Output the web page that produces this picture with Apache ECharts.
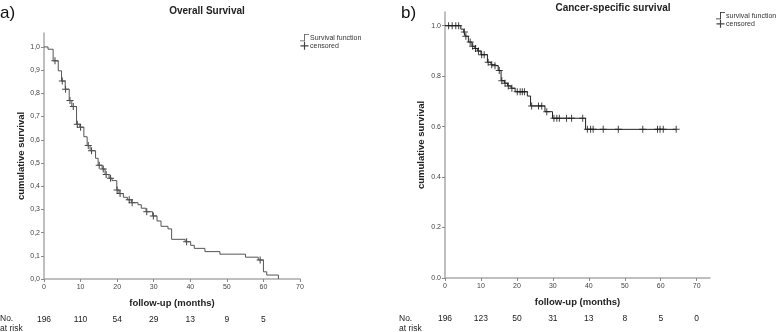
<!DOCTYPE html>
<html>
<head>
<meta charset="utf-8">
<script src="https://cdn.jsdelivr.net/npm/echarts@6/dist/echarts.min.js"></script>
<style>
  html, body { margin: 0; padding: 0; background: #fff; }
  #chart { width: 778px; height: 332px; }
</style>
</head>
<body>
<div id="chart"></div>
<script>
// a) overall survival: step points [months, survival]
let osCurve = [
  [0, 1.0], [1.1, 0.99], [2.5, 0.94], [3.9, 0.897], [4.8, 0.853], [5.8, 0.818],
  [6.9, 0.769], [7.6, 0.743], [8.9, 0.667], [9.8, 0.654], [10.9, 0.613], [11.8, 0.575],
  [12.6, 0.553], [14.1, 0.52], [14.8, 0.49], [15.9, 0.474], [16.7, 0.45], [17.8, 0.434],
  [18.6, 0.424], [19.9, 0.384], [20.5, 0.368], [21.7, 0.352], [22.8, 0.341], [23.9, 0.329],
  [25.7, 0.32], [26.6, 0.305], [27.9, 0.29], [29.7, 0.272], [30.9, 0.25], [32.0, 0.227],
  [33.9, 0.216], [34.9, 0.171], [38.6, 0.161], [40.1, 0.145], [41.1, 0.132], [44.0, 0.118],
  [48.1, 0.107], [55.1, 0.094], [58.6, 0.082], [60.0, 0.031], [60.9, 0.017], [64.1, 0]
]
let osCensored = [
  [3.0, 0.94], [5.0, 0.853], [5.9, 0.818], [7.1, 0.769], [8.0, 0.743], [9.1, 0.667],
  [10.0, 0.654], [12.1, 0.575], [13.0, 0.553], [15.1, 0.49], [16.2, 0.474], [17.0, 0.45],
  [18.2, 0.434], [20.0, 0.384], [20.8, 0.368], [23.3, 0.341], [24.1, 0.329], [28.1, 0.29],
  [29.9, 0.272], [39.0, 0.161], [59.1, 0.082]
]
let osRisk = ['196', '110', '54', '29', '13', '9', '5']

// b) cancer-specific survival
let cssCurve = [
  [0, 1.0], [4.4, 0.986], [5.2, 0.975], [5.7, 0.958], [6.5, 0.935], [7.5, 0.918],
  [8.3, 0.909], [9.1, 0.899], [10.0, 0.885], [11.8, 0.855], [12.8, 0.845], [13.6, 0.841],
  [14.8, 0.822], [15.6, 0.782], [16.5, 0.772], [17.4, 0.761], [18.4, 0.752], [19.5, 0.738],
  [22.9, 0.721], [23.8, 0.682], [27.8, 0.659], [29.9, 0.633], [39.1, 0.589], [64.3, 0.589]
]
let cssCensored = [
  [1.0, 1.0], [2.0, 1.0], [3.0, 1.0], [3.8, 1.0], [5.4, 0.975], [5.8, 0.958], [7.0, 0.935],
  [7.7, 0.918], [8.5, 0.909], [9.3, 0.899], [10.2, 0.885], [10.9, 0.885], [12.0, 0.855],
  [13.0, 0.845], [13.9, 0.841], [15.1, 0.822], [15.8, 0.782], [16.7, 0.772], [17.6, 0.761],
  [18.6, 0.752], [20.1, 0.738], [20.9, 0.738], [21.5, 0.738], [22.1, 0.738], [24.1, 0.682],
  [26.0, 0.682], [26.9, 0.682], [28.3, 0.659], [30.3, 0.633], [31.1, 0.633], [31.8, 0.633],
  [33.8, 0.633], [35.2, 0.633], [38.3, 0.633], [39.6, 0.589], [40.5, 0.589], [41.2, 0.589],
  [44.0, 0.589], [48.2, 0.589], [55.0, 0.589], [59.1, 0.589], [59.8, 0.589], [60.7, 0.589],
  [64.3, 0.589]
]
let cssRisk = ['196', '123', '50', '31', '13', '8', '5', '0']

let monthTicks = [0, 10, 20, 30, 40, 50, 60, 70]
let osYTicks = [0, 0.1, 0.2, 0.3, 0.4, 0.5, 0.6, 0.7, 0.8, 0.9, 1.0]
let cssYTicks = [0, 0.2, 0.4, 0.6, 0.8, 1.0]

let font = 'Liberation Sans, Arial, sans-serif'
let plusIcon = 'path://M0,3H7V4H0ZM3,0H4V7H3Z'
let stepIcon = 'path://M0,8H5V0H11V1H6V9H0Z'

let axisLine = { lineStyle: { color: '#aaa', width: 1.5 } }
let axisTick = { length: 3, lineStyle: { color: '#888' } }
let tickLabel = { fontSize: 7, color: '#444', fontFamily: font }
let nameStyle = { fontSize: 9.5, fontWeight: 'bold', color: '#222', fontFamily: font }

function xAxes(grid, max) {
  return [
    {
      type: 'value', gridIndex: grid, min: 0, max: max,
      name: 'follow-up (months)', nameLocation: 'middle', nameGap: 19, nameTextStyle: nameStyle,
      axisLine: axisLine, splitLine: { show: false },
      axisTick: Object.assign({ customValues: monthTicks }, axisTick),
      axisLabel: Object.assign({ customValues: monthTicks, margin: 5 }, tickLabel),
    },
    {
      // number at risk row
      type: 'value', gridIndex: grid, min: 0, max: max, position: 'bottom', offset: 36,
      axisLine: { show: false }, axisTick: { show: false }, splitLine: { show: false },
      axisLabel: {
        customValues: monthTicks.slice(0, grid == 0 ? osRisk.length : cssRisk.length),
        margin: 0, fontSize: 8.5, color: '#222', fontFamily: font,
        formatter: function (v) {
          let arr = grid == 0 ? osRisk : cssRisk
          return arr[Math.round(v / 10)]
        },
      },
    },
  ]
}

function yAxis(grid, max, ticks, comma, gap) {
  return {
    type: 'value', gridIndex: grid, min: 0, max: max,
    name: 'cumulative survival', nameLocation: 'middle', nameGap: gap, nameTextStyle: nameStyle,
    axisLine: axisLine, splitLine: { show: false },
    axisTick: Object.assign({ customValues: ticks }, axisTick),
    axisLabel: Object.assign({
      customValues: ticks, margin: 4,
      formatter: function (v) {
        let s = v.toFixed(1)
        return comma ? s.replace('.', ',') : s
      },
    }, tickLabel),
  }
}

let mychart = echarts.init(document.getElementById('chart'))
let option = {
  animation: false,
  textStyle: { fontFamily: font },
  title: [
    { text: 'Overall Survival', left: 202, top: 1, textAlign: 'center',
      textStyle: { fontSize: 10, fontWeight: 'bold', color: '#222' } },
    { text: 'Cancer-specific survival', left: 608, top: -2, textAlign: 'center',
      textStyle: { fontSize: 10, fontWeight: 'bold', color: '#222' } },
  ],
  legend: [
    {
      orient: 'vertical', left: 300, top: 34, padding: 0, itemWidth: 9, itemHeight: 8, itemGap: 0.5,
      textStyle: { fontSize: 7, color: '#333', padding: [0, 0, 0, -4] },
      data: [{ name: 'Survival function', icon: stepIcon }, { name: 'censored', icon: plusIcon }],
    },
    {
      orient: 'vertical', left: 716, top: 12, padding: 0, itemWidth: 9, itemHeight: 8, itemGap: 0.5,
      textStyle: { fontSize: 7, color: '#333', padding: [0, 0, 0, -4] },
      data: [{ name: 'survival function', icon: stepIcon }, { name: 'censored', icon: plusIcon }],
    },
  ],
  graphic: [
    { type: 'text', left: 0, top: 5, style: { text: 'a)', fontSize: 17, fill: '#111', fontFamily: font } },
    { type: 'text', left: 401, top: 5, style: { text: 'b)', fontSize: 17, fill: '#111', fontFamily: font } },
    { type: 'text', left: 0, top: 314, style: { text: 'No.\nat risk', fontSize: 8.5, lineHeight: 10, fill: '#222', fontFamily: font } },
    { type: 'text', left: 399, top: 314, style: { text: 'No.\nat risk', fontSize: 8.5, lineHeight: 10, fill: '#222', fontFamily: font } },
  ],
  grid: [
    { left: 44, top: 33, width: 256, height: 246 },
    { left: 445, top: 12, width: 265, height: 266 },
  ],
  xAxis: xAxes(0, 70).concat(xAxes(1, 73.7)),
  yAxis: [yAxis(0, 1.06, osYTicks, true, 18), yAxis(1, 1.054, cssYTicks, false, 19)],
  series: [
    {
      name: 'Survival function', type: 'line', step: 'end', xAxisIndex: 0, yAxisIndex: 0,
      showSymbol: false, color: '#555', lineStyle: { width: 1, color: '#555' }, data: osCurve,
    },
    {
      name: 'censored', type: 'scatter', xAxisIndex: 0, yAxisIndex: 0,
      symbol: plusIcon, symbolSize: 7, color: '#111', data: osCensored,
    },
    {
      name: 'survival function', type: 'line', step: 'end', xAxisIndex: 2, yAxisIndex: 1,
      showSymbol: false, color: '#222', lineStyle: { width: 1, color: '#222' }, data: cssCurve,
    },
    {
      name: 'censored', type: 'scatter', xAxisIndex: 2, yAxisIndex: 1,
      symbol: plusIcon, symbolSize: 7, color: '#111', data: cssCensored,
    },
  ],
}
mychart.setOption(option)
</script>
</body>
</html>
